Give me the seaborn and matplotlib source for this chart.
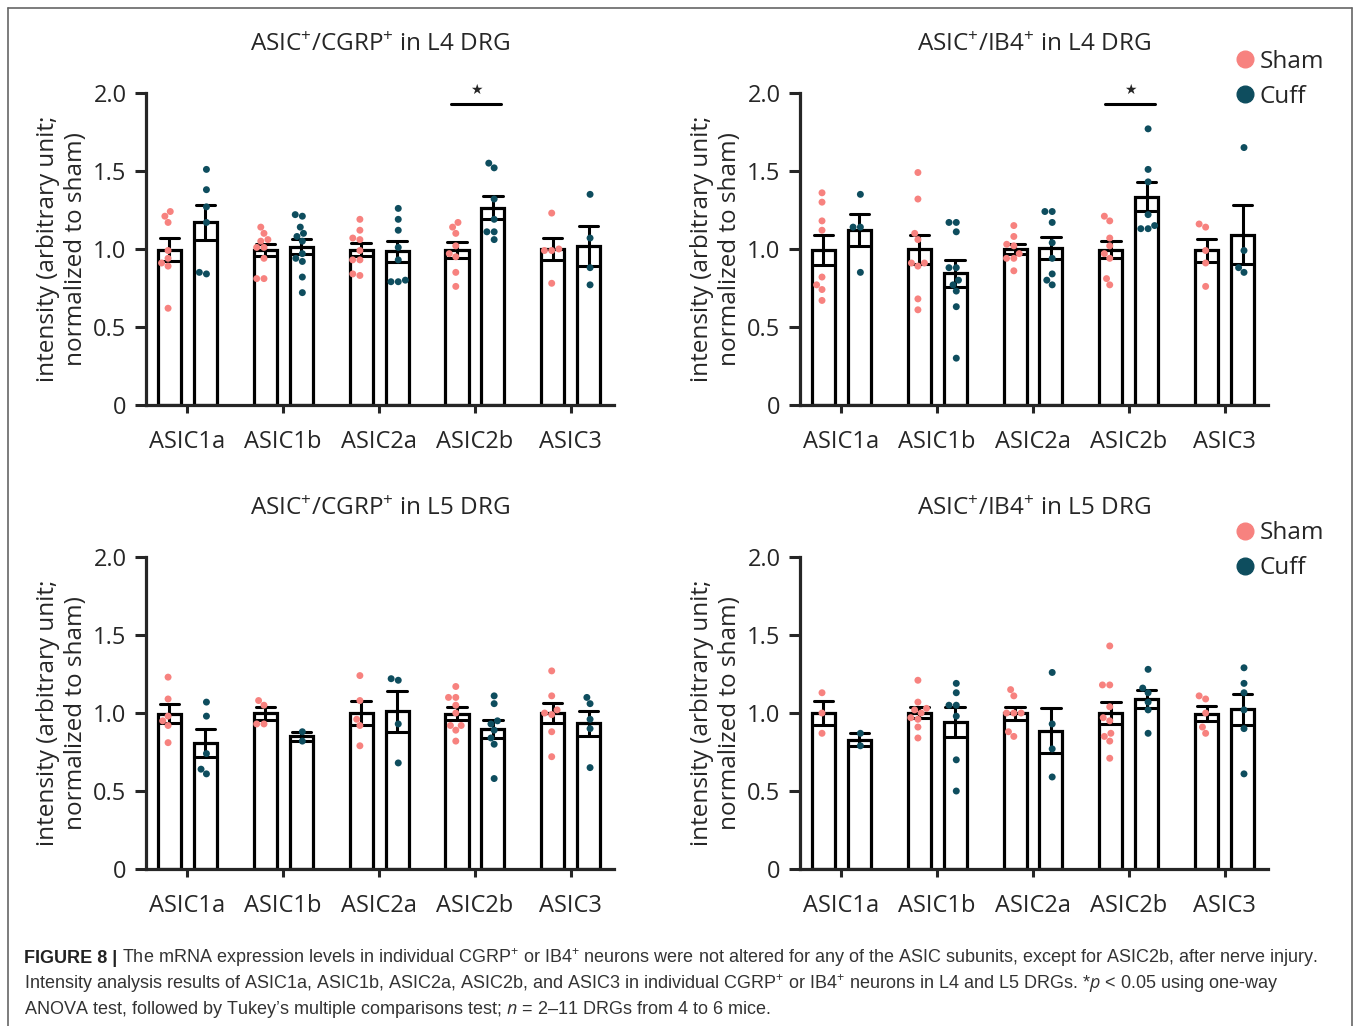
import matplotlib
matplotlib.use("Agg")
import matplotlib.pyplot as plt
from matplotlib.lines import Line2D
import seaborn as sns
import pandas as pd

# subunits on the x axis
subunits = ["ASIC1a", "ASIC1b", "ASIC2a", "ASIC2b", "ASIC3"]
groups = ["Sham", "Cuff"]
sham_color = "#F7827F"
cuff_color = "#0E4D5E"

# ASIC+/CGRP+ in L4 DRG (individual DRG values)
cgrp_l4_sham = [
    [1.21, 1.24, 1.17, 0.99, 0.94, 0.91, 0.89, 0.62],
    [1.14, 1.06, 1.10, 1.01, 1.05, 1.01, 0.94, 0.81, 0.81],
    [1.19, 1.12, 1.06, 1.07, 0.99, 0.93, 0.93, 0.83, 0.84],
    [1.17, 1.14, 1.10, 1.02, 0.95, 0.97, 0.85, 0.76],
    [1.23, 0.99, 1.00, 0.99, 0.78],
]
cgrp_l4_cuff = [
    [1.51, 1.38, 1.27, 1.17, 0.84, 0.85],
    [1.21, 1.22, 1.14, 1.10, 1.08, 1.05, 0.97, 0.92, 0.94, 0.82, 0.72],
    [1.26, 1.19, 1.12, 1.01, 0.93, 0.79, 0.80, 0.79],
    [1.52, 1.55, 1.32, 1.19, 1.11, 1.11, 1.06],
    [1.35, 1.07, 0.88, 0.77],
]

# ASIC+/IB4+ in L4 DRG
ib4_l4_sham = [
    [1.36, 1.30, 1.18, 1.12, 0.82, 0.74, 0.77, 0.67],
    [1.49, 1.32, 1.10, 1.06, 0.89, 0.91, 0.91, 0.68, 0.61],
    [1.15, 1.08, 1.02, 1.03, 0.94, 0.97, 0.94, 0.86],
    [1.18, 1.21, 1.07, 1.02, 0.94, 0.97, 0.81, 0.77],
    [1.14, 1.16, 0.99, 0.91, 0.76],
]
ib4_l4_cuff = [
    [1.35, 1.14, 1.14, 0.85],
    [1.17, 1.17, 1.11, 0.88, 0.88, 0.80, 0.73, 0.77, 0.63, 0.30],
    [1.24, 1.24, 1.17, 1.04, 0.94, 0.84, 0.77, 0.80],
    [1.77, 1.51, 1.43, 1.22, 1.13, 1.15, 1.13],
    [1.65, 0.99, 0.85, 0.88],
]

# ASIC+/CGRP+ in L5 DRG
cgrp_l5_sham = [
    [1.23, 1.09, 0.98, 0.95, 0.92, 0.81],
    [1.05, 1.08, 0.93, 0.93],
    [1.24, 1.08, 0.92, 0.96, 0.79],
    [1.17, 1.10, 1.10, 1.05, 1.00, 0.89, 0.92, 0.92, 0.82],
    [1.27, 1.11, 0.99, 1.00, 1.02, 0.88, 0.72],
]
cgrp_l5_cuff = [
    [1.07, 0.98, 0.74, 0.61, 0.64],
    [0.88, 0.82],
    [1.21, 1.22, 0.93, 0.68],
    [1.11, 1.06, 0.93, 0.95, 0.89, 0.80, 0.84, 0.58],
    [1.10, 1.06, 0.96, 0.90, 0.65],
]

# ASIC+/IB4+ in L5 DRG
ib4_l5_sham = [
    [1.13, 1.00, 0.87],
    [1.21, 1.07, 1.03, 1.02, 1.00, 0.96, 0.97, 0.91, 0.84],
    [1.11, 1.15, 1.00, 1.00, 1.00, 0.85, 0.88],
    [1.43, 1.18, 1.18, 1.04, 0.95, 0.97, 0.87, 0.85, 0.82, 0.71],
    [1.09, 1.11, 1.00, 0.87, 0.91],
]
ib4_l5_cuff = [
    [0.87, 0.79],
    [1.19, 1.13, 1.05, 1.05, 0.98, 0.70, 0.50],
    [1.26, 0.93, 0.77, 0.59],
    [1.28, 1.16, 1.13, 1.07, 1.02, 0.87],
    [1.29, 1.19, 1.13, 1.02, 0.90, 0.61],
]

titles = [
    "ASIC$^{+}$/CGRP$^{+}$ in L4 DRG",
    "ASIC$^{+}$/IB4$^{+}$ in L4 DRG",
    "ASIC$^{+}$/CGRP$^{+}$ in L5 DRG",
    "ASIC$^{+}$/IB4$^{+}$ in L5 DRG",
]
star_subunit = ["ASIC2b", "ASIC2b", None, None]

caption_bold = "FIGURE 8 | "
caption_lines = [
    "The mRNA expression levels in individual CGRP$^{+}$ or IB4$^{+}$ neurons were not altered for any of the ASIC subunits, except for ASIC2b, after nerve injury.",
    "Intensity analysis results of ASIC1a, ASIC1b, ASIC2a, ASIC2b, and ASIC3 in individual CGRP$^{+}$ or IB4$^{+}$ neurons in L4 and L5 DRGs. *$p$ < 0.05 using one-way",
    "ANOVA test, followed by Tukey\u2019s multiple comparisons test; $n$ = 2\u201311 DRGs from 4 to 6 mice.",
]


def to_frame(sham, cuff):
    rows = []
    for group, values in (("Sham", sham), ("Cuff", cuff)):
        for sub, vals in zip(subunits, values):
            for v in vals:
                rows.append({"subunit": sub, "group": group, "value": v})
    return pd.DataFrame(rows)


sns.set_theme(style="ticks")
plt.rcParams["font.family"] = ["Open Sans", "DejaVu Sans"]
plt.rcParams["mathtext.fontset"] = "custom"
plt.rcParams["mathtext.rm"] = "Open Sans"
plt.rcParams["mathtext.it"] = "Open Sans:italic"

fig = plt.figure(figsize=(13.57, 10.26), dpi=100)
positions = [
    [0.1076, 0.6053, 0.3449, 0.3041],
    [0.5895, 0.6053, 0.3449, 0.3041],
    [0.1076, 0.1530, 0.3449, 0.3041],
    [0.5895, 0.1530, 0.3449, 0.3041],
]
datasets = [
    (cgrp_l4_sham, cgrp_l4_cuff),
    (ib4_l4_sham, ib4_l4_cuff),
    (cgrp_l5_sham, cgrp_l5_cuff),
    (ib4_l5_sham, ib4_l5_cuff),
]
legend_y = {1: 1.17, 3: 1.145}
palette = {"Sham": sham_color, "Cuff": cuff_color}

for i, (pos, (sham, cuff)) in enumerate(zip(positions, datasets)):
    ax = fig.add_axes(pos)
    df = to_frame(sham, cuff)
    sns.barplot(data=df, x="subunit", y="value", hue="group",
                order=subunits, hue_order=groups,
                width=0.75, gap=0.36, fill=False,
                palette={"Sham": "black", "Cuff": "black"},
                linewidth=2.3, errorbar="se", capsize=0.4,
                err_kws={"linewidth": 2.2, "color": "black"},
                legend=False, ax=ax)
    sns.swarmplot(data=df, x="subunit", y="value", hue="group",
                  order=subunits, hue_order=groups, dodge=True,
                  palette=palette, size=5, legend=False, ax=ax, zorder=3)

    ax.set_xlim(-0.43, 4.45)
    ax.set_ylim(0, 2.0)
    ax.set_yticks([0, 0.5, 1.0, 1.5, 2.0])
    ax.set_yticklabels(["0", "0.5", "1.0", "1.5", "2.0"])
    ax.set_xlabel("")
    ax.set_ylabel("intensity (arbitrary unit;\nnormalized to sham)",
                  fontsize=17.5, labelpad=4, linespacing=1.2)
    ax.set_title(titles[i], fontsize=17.5, pad=30)
    ax.tick_params(axis="y", labelsize=17, length=8, width=2.2, pad=6)
    ax.tick_params(axis="x", labelsize=17, length=6, width=2.2, pad=12)
    for side in ("top", "right"):
        ax.spines[side].set_visible(False)
    for side in ("left", "bottom"):
        ax.spines[side].set_linewidth(2.3)

    if star_subunit[i] is not None:
        k = subunits.index(star_subunit[i])
        ax.plot([k - 0.25, k + 0.27], [1.93, 1.93], color="black", lw=2.2,
                clip_on=False)
        ax.text(k + 0.01, 1.975, "\u2605", ha="center", va="bottom",
                fontsize=10, family="DejaVu Sans", clip_on=False)

    if i in legend_y:
        handles = [Line2D([], [], marker="o", linestyle="", markersize=12,
                          color=palette[g]) for g in groups]
        ax.legend(handles, groups, loc="upper left",
                  bbox_to_anchor=(0.905, legend_y[i]),
                  frameon=False, fontsize=17.5, handletextpad=0.1,
                  handlelength=1.0, labelspacing=0.45, borderaxespad=0)

# caption: bold lead-in followed by the running text
cap_base = [963, 989, 1014]
cap_size = 13
lead = fig.text(24 / 1357, 1 - cap_base[0] / 1026, caption_bold,
                fontsize=cap_size, fontweight="bold", family="Liberation Sans",
                va="baseline", color="#222222")
fig.canvas.draw()
lead_end = lead.get_window_extent().x1 / fig.bbox.width
fig.text(lead_end, 1 - cap_base[0] / 1026, caption_lines[0], fontsize=cap_size,
         family="Liberation Sans", va="baseline", color="#333333")
for line, y in zip(caption_lines[1:], cap_base[1:]):
    fig.text(24 / 1357, 1 - y / 1026, line, fontsize=cap_size,
             family="Liberation Sans", va="baseline", color="#333333")

# thin frame around the figure panel
frame_kw = dict(color="#666666", lw=1.2, transform=fig.transFigure)
fig.add_artist(Line2D([8 / 1357, 8 / 1357], [0, 1 - 8 / 1026], **frame_kw))
fig.add_artist(Line2D([1352 / 1357, 1352 / 1357], [0, 1 - 8 / 1026], **frame_kw))
fig.add_artist(Line2D([8 / 1357, 1352 / 1357], [1 - 8 / 1026, 1 - 8 / 1026], **frame_kw))

fig.savefig("out.png", dpi=100)
